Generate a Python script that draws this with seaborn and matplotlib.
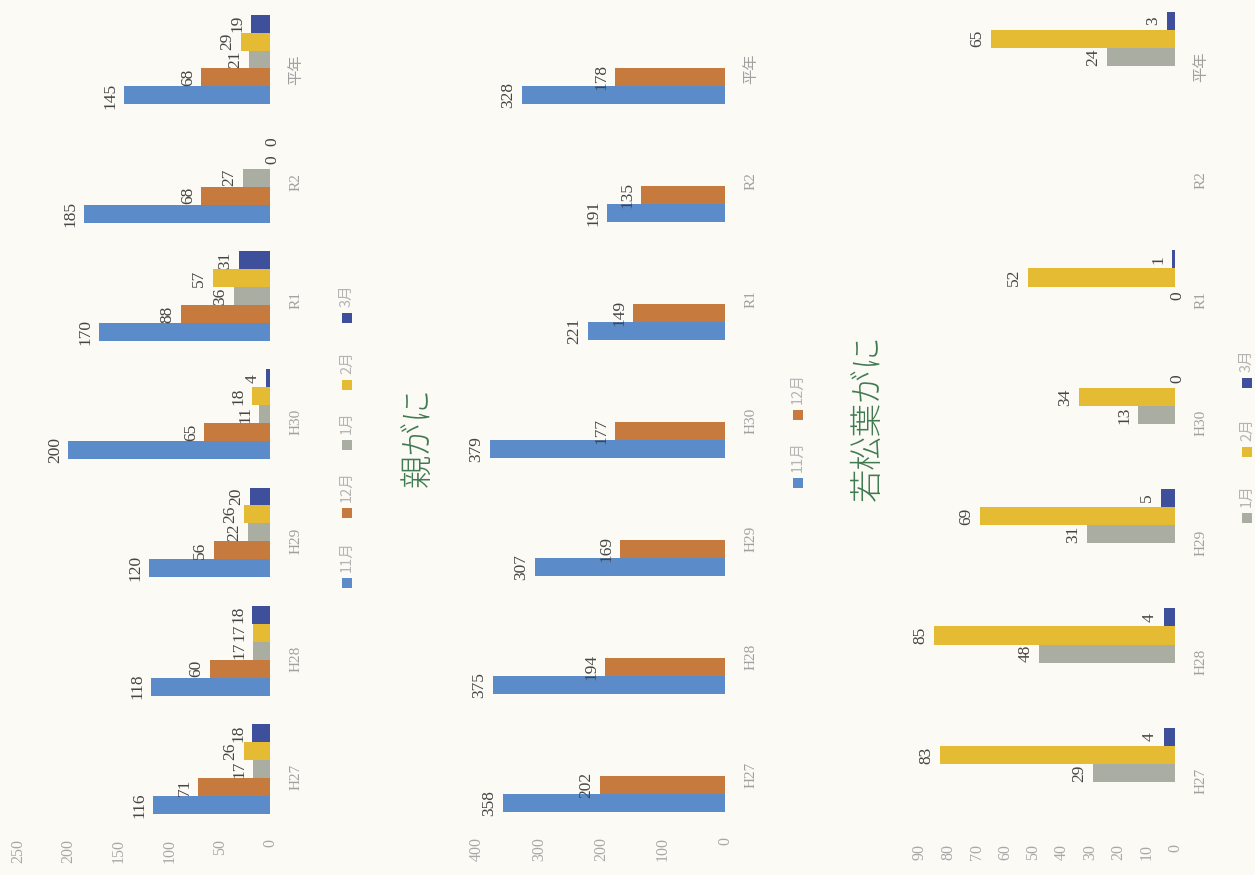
import numpy as np
import pandas as pd
import matplotlib
matplotlib.use("Agg")
import matplotlib.pyplot as plt
import seaborn as sns
from matplotlib.patches import Rectangle

# ---------------- data ----------------
categories = ["H27", "H28", "H29", "H30", "R1", "R2", "平年"]
months = ["11月", "12月", "1月", "2月", "3月"]
nan = np.nan

# chart 1 (all crabs, 5 months)
c1_nov = [116, 118, 120, 200, 170, 185, 145]
c1_dec = [71, 60, 56, 65, 88, 68, 68]
c1_jan = [17, 17, 22, 11, 36, 27, 21]
c1_feb = [26, 17, 26, 18, 57, 0, 29]
c1_mar = [18, 18, 20, 4, 31, 0, 19]

# 親がに (Nov, Dec only)
oya_nov = [358, 375, 307, 379, 221, 191, 328]
oya_dec = [202, 194, 169, 177, 149, 135, 178]

# 若松葉がに (Jan, Feb, Mar only)
waka_jan = [29, 48, 31, 13, 0, nan, 24]
waka_feb = [83, 85, 69, 34, 52, nan, 65]
waka_mar = [4, 4, 5, 0, 1, nan, 3]

titles = ["", "親がに", "若松葉がに"]
xticks1 = [0, 50, 100, 150, 200, 250]
xticks2 = [0, 100, 200, 300, 400]
xticks3 = [0, 10, 20, 30, 40, 50, 60, 70, 80, 90]

colors = {"11月": "#5b8bc8", "12月": "#c77a3d", "1月": "#a9ada2",
          "2月": "#e4bb32", "3月": "#3e4f9c"}


def long_df(series):
    rows = []
    for m, vals in series.items():
        for c, v in zip(categories, vals):
            rows.append({"cat": c, "month": m, "value": v})
    return pd.DataFrame(rows)


df1 = long_df({"11月": c1_nov, "12月": c1_dec, "1月": c1_jan, "2月": c1_feb, "3月": c1_mar})
df2 = long_df({"11月": oya_nov, "12月": oya_dec, "1月": [nan] * 7, "2月": [nan] * 7, "3月": [nan] * 7})
df3 = long_df({"11月": [nan] * 7, "12月": [nan] * 7, "1月": waka_jan, "2月": waka_feb, "3月": waka_mar})

# ---------------- figure ----------------
sns.set_theme(style="white")
SERIF = ["Liberation Serif", "Noto Sans CJK JP"]
CJK = ["Noto Sans CJK JP", "DejaVu Sans"]
plt.rcParams["font.family"] = SERIF

W, H = 1255, 875
fig = plt.figure(figsize=(W / 100, H / 100), dpi=100, facecolor="#fbfaf4")


def fx(x):
    return x / W


def fy(y):
    return 1 - y / H


# axes geometry in image pixels: left, right, top, bottom
geoms = [(18, 270, 0.4, 828), (477, 725, 0, 826), (920, 1175, -2.7, 832.7)]
dfs = [df1, df2, df3]
xmaxs = [250, 400, 90]
xtick_sets = [xticks1, xticks2, xticks3]

for df, (l, r, t, b), xmax, xt in zip(dfs, geoms, xmaxs, xtick_sets):
    ax = fig.add_axes([fx(l), fy(b), (r - l) / W, (b - t) / H])
    ax.set_facecolor("none")
    sns.barplot(data=df, y="cat", x="value", hue="month", order=categories,
                hue_order=months, palette=colors, orient="h", errorbar=None,
                width=0.76, gap=0, saturation=1, legend=False,
                edgecolor="none", linewidth=0, ax=ax)
    ax.set_ylim(-0.5, 6.5)
    ax.set_xlim(xmax, 0)
    ax.set_xticks(xt)
    ax.set_xlabel("")
    ax.set_ylabel("")
    ax.yaxis.tick_right()
    for s in ax.spines.values():
        s.set_visible(False)
    ax.tick_params(axis="x", length=0, pad=8, labelrotation=90,
                   labelcolor="#a8a8a8", labelsize=11.5)
    ax.tick_params(axis="y", length=0, pad=14, labelrotation=90,
                   labelcolor="#a0a0a0", labelsize=11)
    for lab in ax.get_yticklabels():
        lab.set_family(SERIF)
    for c in ax.containers:
        ax.bar_label(c, fmt="%g", rotation=90, padding=4, fontsize=12.5,
                     color="#454545", family=SERIF)

# ---------------- legends ----------------
legend_items = [
    (347, [("11月", 583), ("12月", 513), ("1月", 445), ("2月", 385), ("3月", 318)]),
    (798, [("11月", 483), ("12月", 415)]),
    (1247, [("1月", 518), ("2月", 452), ("3月", 383)]),
]
sq = 10
for x, items in legend_items:
    for label, y in items:
        fig.add_artist(Rectangle((fx(x - sq / 2), fy(y + sq / 2)), sq / W, sq / H,
                                 transform=fig.transFigure, facecolor=colors[label],
                                 edgecolor="none"))
        fig.text(fx(x), fy(y - sq / 2 - 6), label, rotation=90, ha="center",
                 va="bottom", fontsize=10.5, color="#b4b4b4", family=CJK)

# ---------------- titles ----------------
fig.text(fx(418), fy(437), titles[1], rotation=90, ha="center", va="center",
         fontsize=24, color="#3f7a50", family=CJK, fontweight="light")
fig.text(fx(868), fy(418), titles[2], rotation=90, ha="center", va="center",
         fontsize=24, color="#3f7a50", family=CJK, fontweight="light")

fig.savefig("out.png", dpi=100, facecolor=fig.get_facecolor())
